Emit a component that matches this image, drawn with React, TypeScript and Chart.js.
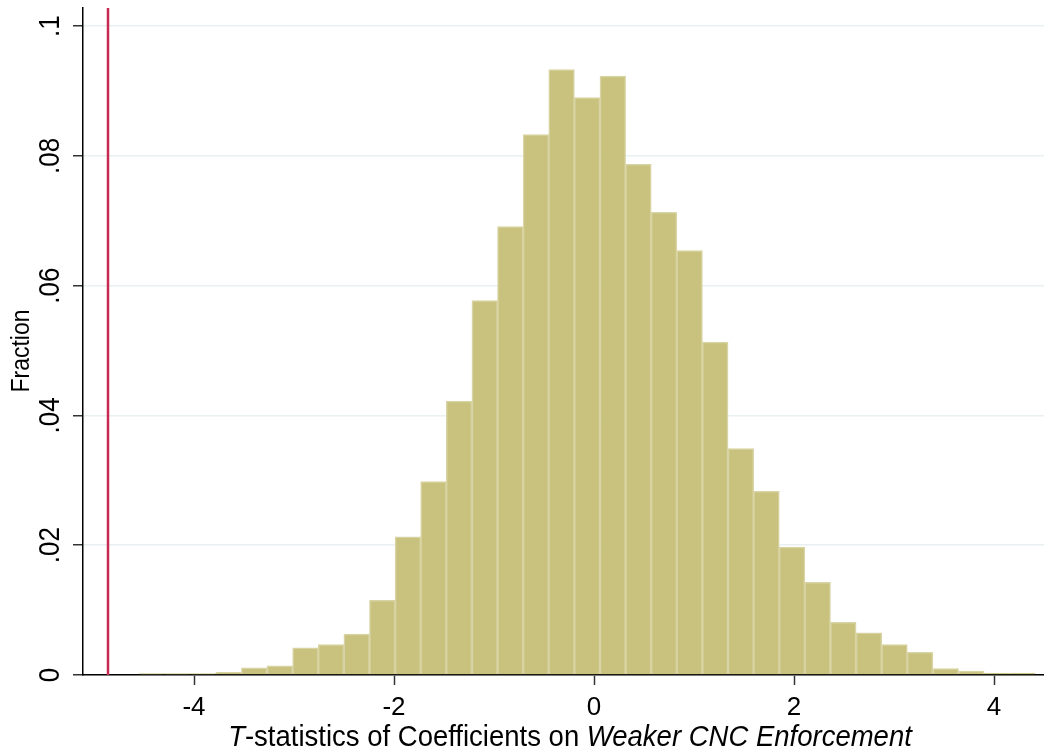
import React, { useEffect, useRef } from "react";
import { Chart, registerables } from "chart.js";

Chart.register(...registerables);

// Histogram bins (Stata-style: 35 bins)
const binStart = -4.55;
const binWidth = 0.2561;
const fractions = [
  0.0002, 0.0002, 0.0002, 0.0004, 0.0011, 0.0014, 0.0042, 0.0047, 0.0063, 0.0115,
  0.0213, 0.0298, 0.0422, 0.0577, 0.0691, 0.0833, 0.0933, 0.089, 0.0923, 0.0787,
  0.0713, 0.0654, 0.0513, 0.0349, 0.0283, 0.0197, 0.0143, 0.0081, 0.0065, 0.0047,
  0.0035, 0.001, 0.0006, 0.0003, 0.0003,
];
const xTicks = [-4, -2, 0, 2, 4];
const xTickLabels = ["-4", "-2", "0", "2", "4"];
const yTicks = [0, 0.02, 0.04, 0.06, 0.08, 0.1];
const yTickLabels = ["0", ".02", ".04", ".06", ".08", ".1"];
const refLineX = -4.86;
const xMin = -5.11;
const xMax = 4.5;
const yMin = 0;
const yMax = 0.1028;
const xTitleParts = [
  { text: "T", italic: true },
  { text: "-statistics of Coefficients on ", italic: false },
  { text: "Weaker CNC Enforcement", italic: true },
];
const yTitle = "Fraction";

const FONT = '"Liberation Sans", Arial, Helvetica, sans-serif';

const textPlugin = {
  id: "stataText",
  afterDraw(chart: any) {
    const ctx = chart.ctx as CanvasRenderingContext2D;
    const ys = chart.scales.y;
    ctx.save();
    ctx.fillStyle = "#000";
    // y tick labels (rotated)
    ctx.font = `26px ${FONT}`;
    ctx.textAlign = "center";
    ctx.textBaseline = "middle";
    yTicks.forEach((v, i) => {
      const py = ys.getPixelForValue(v);
      ctx.save();
      ctx.translate(51, py);
      ctx.rotate(-Math.PI / 2);
      ctx.scale(1, 1.1);
      ctx.fillText(yTickLabels[i], 0, 0);
      ctx.restore();
    });
    // y title
    ctx.font = `23px ${FONT}`;
    ctx.save();
    ctx.translate(22, 351);
    ctx.rotate(-Math.PI / 2);
    ctx.scale(1, 1.1);
    ctx.fillText(yTitle, 0, 0);
    ctx.restore();
    // x title with mixed italic
    const size = 27.5;
    const fontFor = (it: boolean) => `${it ? "italic " : ""}${size}px ${FONT}`;
    let total = 0;
    const widths = xTitleParts.map((p) => {
      ctx.font = fontFor(p.italic);
      const w = ctx.measureText(p.text).width;
      total += w;
      return w;
    });
    let x = 570 - total / 2;
    ctx.textAlign = "left";
    ctx.textBaseline = "middle";
    ctx.save();
    ctx.translate(0, 738);
    ctx.scale(1, 1.1);
    xTitleParts.forEach((p, i) => {
      ctx.font = fontFor(p.italic);
      ctx.fillText(p.text, x, 0);
      x += widths[i];
    });
    ctx.restore();
    ctx.restore();
  },
};

export default function App() {
  const ref = useRef<HTMLCanvasElement | null>(null);
  useEffect(() => {
    if (!ref.current) return;
    const barData = fractions.map((f, i) => ({ x: binStart + (i + 0.5) * binWidth, y: f }));
    const chart = new Chart(ref.current, {
      type: "bar",
      data: {
        datasets: [
          {
            type: "line",
            data: [
              { x: refLineX, y: yMin },
              { x: refLineX, y: yMax },
            ],
            borderColor: "#C92A52",
            borderWidth: 2.5,
            pointRadius: 0,
            order: 1,
          } as any,
          {
            type: "bar",
            data: barData,
            backgroundColor: "#C9C27E",
            borderColor: "#D8D3A2",
            borderWidth: 1.5,
            barPercentage: 1,
            categoryPercentage: 1,
            order: 2,
          } as any,
        ],
      },
      options: {
        animation: false,
        responsive: false,
        maintainAspectRatio: false,
        layout: { padding: { top: 8, right: 0, left: 0, bottom: 0 } },
        plugins: { legend: { display: false }, tooltip: { enabled: false } },
        scales: {
          x: {
            type: "linear",
            min: xMin,
            max: xMax,
            offset: false,
            afterBuildTicks: (s: any) => {
              s.ticks = xTicks.map((v) => ({ value: v }));
            },
            afterFit: (s: any) => {
              s.height = 78;
            },
            grid: {
              offset: false,
              drawOnChartArea: false,
              drawTicks: true,
              tickLength: 10,
              tickColor: "#333",
              tickWidth: 1.5,
            },
            border: { display: true, color: "#000", width: 1.5 },
            ticks: {
              autoSkip: false,
              maxRotation: 0,
              padding: 7,
              color: "#000",
              font: { size: 26, family: FONT },
              callback: (_v: any, i: number) => xTickLabels[i],
            },
          },
          y: {
            min: yMin,
            max: yMax,
            afterBuildTicks: (s: any) => {
              s.ticks = yTicks.map((v) => ({ value: v }));
            },
            afterFit: (s: any) => {
              s.width = 83;
            },
            grid: {
              color: "#E8F0F2",
              lineWidth: 1.5,
              drawTicks: true,
              tickLength: 10,
              tickColor: "#333",
              tickWidth: 1.5,
            },
            border: { display: true, color: "#000", width: 1.5 },
            ticks: { display: false },
          },
        },
      },
      plugins: [textPlugin],
    } as any);
    return () => chart.destroy();
  }, []);
  return (
    <div style={{ position: "fixed", left: 0, top: 0, width: 1044, height: 753, background: "#fff" }}>
      <canvas ref={ref} width={1044} height={753} style={{ display: "block", width: 1044, height: 753 }} />
    </div>
  );
}
